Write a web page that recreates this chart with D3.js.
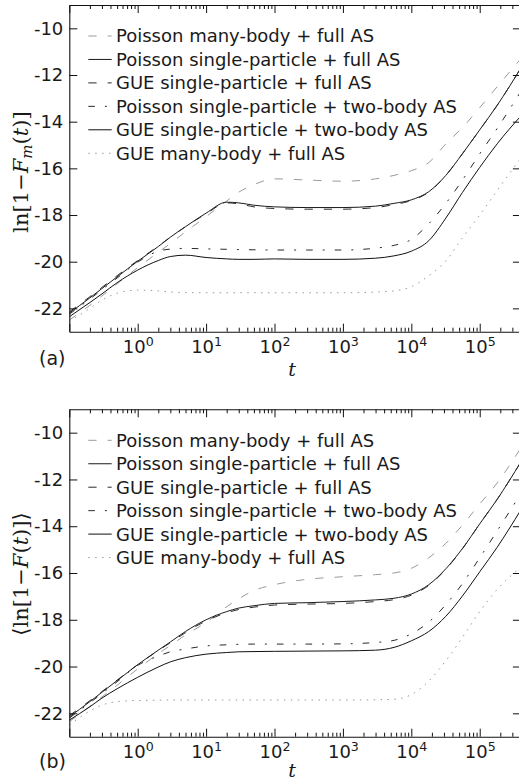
<!DOCTYPE html>
<html>
<head>
<meta charset="utf-8">
<script src="https://cdn.jsdelivr.net/npm/d3@7"></script>
<style>
  html, body { margin: 0; padding: 0; background: #fff; }
  svg { display: block; }
</style>
</head>
<body>
<svg id="chart" width="519" height="781"></svg>
<script>
// ---------------- data ----------------
const tValues = [0.1, 0.2, 0.3, 0.5, 1, 2, 3, 5, 10, 20, 30, 50, 100, 300, 1000, 3000, 5600, 1e4, 1.8e4, 3.2e4, 5.6e4, 1e5, 1.8e5, 4e5];

const seriesNames = [
  "Poisson many-body + full AS",
  "Poisson single-particle + full AS",
  "GUE single-particle + full AS",
  "Poisson single-particle + two-body AS",
  "GUE single-particle + two-body AS",
  "GUE many-body + full AS"
];

// panel (a): ln[1 - F_m(t)]
const poissonManyBodyA   = [-22.5, -21.87, -21.47, -20.95, -20.25, -19.6, -19.22, -18.72, -18.07, -17.4, -17.02, -16.7, -16.45, -16.5, -16.55, -16.45, -16.3, -16.1, -15.75, -14.95, -14.25, -13.4, -12.5, -11.3];
const poissonSingleFullA = [-22.2, -21.55, -21.15, -20.65, -19.98, -19.35, -18.95, -18.5, -17.92, -17.45, -17.48, -17.58, -17.65, -17.68, -17.68, -17.62, -17.5, -17.35, -17.0, -16.3, -15.37, -14.35, -13.3, -11.7];
const gueSingleFullA     = [-22.15, -21.5, -21.1, -20.6, -19.95, -19.33, -18.95, -18.5, -17.95, -17.48, -17.52, -17.65, -17.72, -17.75, -17.75, -17.68, -17.55, -17.38, -17.02, -16.3, -15.37, -14.35, -13.3, -11.7];
const poissonSingleTwoA  = [-22.25, -21.6, -21.2, -20.7, -20.02, -19.55, -19.46, -19.43, -19.45, -19.47, -19.48, -19.49, -19.5, -19.5, -19.5, -19.42, -19.3, -19.05, -18.37, -17.5, -16.5, -15.38, -14.29, -12.7];
const gueSingleTwoA      = [-22.36, -21.75, -21.38, -20.9, -20.36, -19.95, -19.78, -19.72, -19.82, -19.88, -19.9, -19.9, -19.88, -19.9, -19.9, -19.85, -19.75, -19.55, -19.1, -18.13, -17.03, -15.96, -14.95, -13.75];
const gueManyBodyA       = [-22.57, -22.0, -21.65, -21.35, -21.22, -21.25, -21.3, -21.32, -21.33, -21.33, -21.33, -21.33, -21.33, -21.33, -21.33, -21.3, -21.25, -21.07, -20.6, -19.97, -18.97, -18.0, -16.95, -15.55];

// panel (b): <ln[1 - F(t)]>
const poissonManyBodyB   = [-22.36, -21.7, -21.3, -20.8, -20.1, -19.45, -19.1, -18.65, -18.12, -17.44, -17.1, -16.75, -16.5, -16.27, -16.16, -16.07, -16.0, -15.8, -15.35, -14.73, -13.95, -13.05, -12.15, -10.65];
const poissonSingleFullB = [-22.15, -21.5, -21.1, -20.6, -19.92, -19.3, -18.95, -18.5, -18.0, -17.65, -17.5, -17.4, -17.3, -17.27, -17.22, -17.15, -17.08, -16.9, -16.5, -15.82, -14.95, -13.9, -12.85, -11.25];
const gueSingleFullB     = [-22.1, -21.46, -21.07, -20.58, -19.92, -19.32, -18.98, -18.55, -18.05, -17.7, -17.56, -17.46, -17.37, -17.33, -17.3, -17.22, -17.14, -16.95, -16.53, -15.84, -14.96, -13.9, -12.85, -11.25];
const poissonSingleTwoB  = [-22.2, -21.55, -21.15, -20.65, -19.95, -19.55, -19.37, -19.25, -19.12, -19.07, -19.05, -19.04, -19.04, -19.04, -19.03, -18.97, -18.88, -18.6, -18.1, -17.35, -16.45, -15.35, -14.2, -12.6];
const gueSingleTwoB      = [-22.29, -21.72, -21.35, -20.95, -20.46, -20.02, -19.8, -19.62, -19.47, -19.4, -19.37, -19.36, -19.35, -19.34, -19.33, -19.3, -19.18, -18.9, -18.5, -17.85, -16.98, -15.95, -14.9, -13.3];
const gueManyBodyB       = [-22.5, -21.9, -21.65, -21.5, -21.45, -21.44, -21.43, -21.43, -21.43, -21.43, -21.43, -21.43, -21.43, -21.43, -21.43, -21.42, -21.4, -21.2, -20.62, -19.75, -18.75, -17.65, -16.7, -15.75];

const xMajorTicks = [0.1, 1, 10, 100, 1000, 1e4, 1e5];
const yTicks = [-22, -20, -18, -16, -14, -12, -10];
const xDomain = [0.1, 4e5];
const yDomain = [-23, -9];

// ---------------- styles ----------------
const styles = [
  { color: "#9a9a9a", dash: "8.3,11",        width: 1.0 },
  { color: "#1a1a1a", dash: null,            width: 1.0 },
  { color: "#2a2a2a", dash: "8.3,11",        width: 1.0 },
  { color: "#2a2a2a", dash: "6.6,10,2,10",   width: 1.0 },
  { color: "#111111", dash: null,            width: 1.0 },
  { color: "#9a9a9a", dash: "1.5,5.4",       width: 1.0 }
];

const panels = [
  { top: 5, bottom: 331.7, data: [poissonManyBodyA, poissonSingleFullA, gueSingleFullA, poissonSingleTwoA, gueSingleTwoA, gueManyBodyA],
    tag: "(a)", tagY: 365, tickBase: 9, xlabY: 376, ylab: "a", ylabY: 172 },
  { top: 409.3, bottom: 736.7, data: [poissonManyBodyB, poissonSingleFullB, gueSingleFullB, poissonSingleTwoB, gueSingleTwoB, gueManyBodyB],
    tag: "(b)", tagY: 768, tickBase: 9, xlabY: 777, ylab: "b", ylabY: 574 }
];

const svg = d3.select("#chart");
const left = 69.3, right = 520.9;
const x = d3.scaleLog().domain(xDomain).range([left, right]);

const minorTicks = [];
for (let e = -1; e <= 5; e++) {
  for (let m = 2; m <= 9; m++) {
    const v = m * Math.pow(10, e);
    if (v < xDomain[1]) minorTicks.push(v);
  }
}

const sansFont = "'DejaVu Sans', sans-serif";
const serifFont = "'DejaVu Serif', serif";

panels.forEach((p, pi) => {
  const y = d3.scaleLinear().domain(yDomain).range([p.bottom, p.top]);
  const g = svg.append("g");

  const clipId = "clip" + pi;
  g.append("clipPath").attr("id", clipId)
    .append("rect").attr("x", left).attr("y", p.top).attr("width", right - left).attr("height", p.bottom - p.top);

  // curves
  const line = d3.line()
    .x((d, i) => x(tValues[i]))
    .y(d => y(d))
    .curve(d3.curveMonotoneX);

  const curves = g.append("g").attr("clip-path", `url(#${clipId})`);
  p.data.forEach((vals, si) => {
    const s = styles[si];
    curves.append("path")
      .attr("d", line(vals))
      .attr("fill", "none")
      .attr("stroke", s.color)
      .attr("stroke-width", s.width)
      .attr("stroke-dasharray", s.dash);
  });

  // axes
  const axStyle = sel => {
    sel.selectAll("path.domain").attr("stroke", "#111").attr("stroke-width", 1.1);
    sel.selectAll(".tick line").attr("stroke", "#111").attr("stroke-width", 1);
    sel.selectAll("text").attr("font-family", sansFont).attr("font-size", 18).attr("fill", "#1a1a1a");
  };

  // bottom major
  const bottomAxis = g.append("g").attr("transform", `translate(0,${p.bottom})`)
    .call(d3.axisBottom(x).tickValues(xMajorTicks).tickSizeInner(-8).tickSizeOuter(0).tickPadding(p.tickBase)
      .tickFormat(d => d < 1 ? "" : "10"));
  axStyle(bottomAxis);
  bottomAxis.selectAll(".tick text").each(function (d) {
    if (d < 1) return;
    const e = Math.round(Math.log10(d));
    const t = d3.select(this);
    t.text(null);
    t.append("tspan").text("10");
    t.append("tspan").attr("dy", -7.5).attr("font-size", 12.6).text(String(e));
  });
  // bottom minor
  const bottomMinor = g.append("g").attr("transform", `translate(0,${p.bottom})`)
    .call(d3.axisBottom(x).tickValues(minorTicks).tickSizeInner(-4).tickSizeOuter(0).tickFormat(""));
  bottomMinor.select("path.domain").remove();
  axStyle(bottomMinor);

  // top major/minor
  const topAxis = g.append("g").attr("transform", `translate(0,${p.top})`)
    .call(d3.axisTop(x).tickValues(xMajorTicks).tickSizeInner(-8).tickSizeOuter(0).tickFormat(""));
  axStyle(topAxis);
  const topMinor = g.append("g").attr("transform", `translate(0,${p.top})`)
    .call(d3.axisTop(x).tickValues(minorTicks).tickSizeInner(-4).tickSizeOuter(0).tickFormat(""));
  topMinor.select("path.domain").remove();
  axStyle(topMinor);

  // left
  const leftAxis = g.append("g").attr("transform", `translate(${left},0)`)
    .call(d3.axisLeft(y).tickValues(yTicks).tickSizeInner(-8).tickSizeOuter(0).tickPadding(6)
      .tickFormat(d => String(d)));
  axStyle(leftAxis);
  // right
  const rightAxis = g.append("g").attr("transform", `translate(${right},0)`)
    .call(d3.axisRight(y).tickValues(yTicks).tickSizeInner(-8).tickSizeOuter(0).tickFormat(""));
  axStyle(rightAxis);

  // legend
  const legend = g.append("g");
  seriesNames.forEach((name, si) => {
    const s = styles[si];
    const ly = p.top + 31 + si * 23.45;
    legend.append("line")
      .attr("x1", 88.3).attr("x2", 111.7).attr("y1", ly).attr("y2", ly)
      .attr("stroke", s.color).attr("stroke-width", s.width)
      .attr("stroke-dasharray", s.dash);
    legend.append("text")
      .attr("x", 116).attr("y", ly).attr("dy", "0.36em")
      .attr("font-family", sansFont).attr("font-size", 18).attr("fill", "#1a1a1a")
      .text(name);
  });

  // x label
  g.append("text")
    .attr("x", 292).attr("y", p.xlabY)
    .attr("text-anchor", "middle")
    .attr("font-family", serifFont).attr("font-style", "italic").attr("font-size", 19)
    .attr("fill", "#1a1a1a")
    .text("t");

  // panel tag
  g.append("text")
    .attr("x", 39).attr("y", p.tagY)
    .attr("font-family", sansFont).attr("font-size", 19).attr("fill", "#1a1a1a")
    .text(p.tag);

  // y label
  const yl = g.append("text")
    .attr("transform", `translate(28,${p.ylabY}) rotate(-90)`)
    .attr("text-anchor", "middle")
    .attr("font-family", serifFont).attr("font-size", 21).attr("fill", "#1a1a1a");
  if (p.ylab === "a") {
    yl.append("tspan").text("ln[1−");
    yl.append("tspan").attr("font-style", "italic").text("F");
    yl.append("tspan").attr("font-style", "italic").attr("font-size", 15).attr("dy", 4).text("m");
    yl.append("tspan").attr("dy", -4).text("(");
    yl.append("tspan").attr("font-style", "italic").text("t");
    yl.append("tspan").text(")]");
  } else {
    yl.append("tspan").text("⟨ln[1−");
    yl.append("tspan").attr("font-style", "italic").text("F");
    yl.append("tspan").text("(");
    yl.append("tspan").attr("font-style", "italic").text("t");
    yl.append("tspan").text(")]⟩");
  }
});
</script>
</body>
</html>
